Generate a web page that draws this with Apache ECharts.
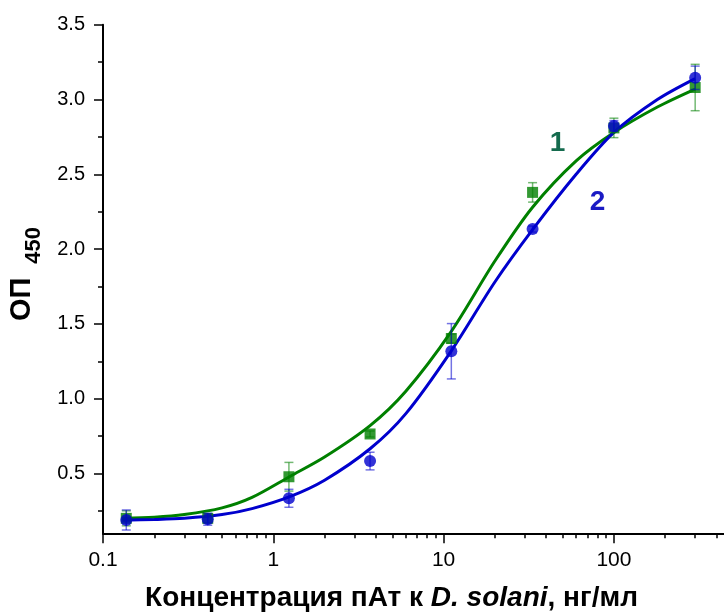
<!DOCTYPE html>
<html>
<head>
<meta charset="utf-8">
<script src="https://cdn.jsdelivr.net/npm/echarts@6/dist/echarts.min.js"></script>
<style>
  html, body { margin: 0; padding: 0; background: #ffffff; }
  #chart { width: 724px; height: 613px; }
</style>
</head>
<body>
<div id="chart"></div>
<script>
// Antibody concentration (ng/ml), three-fold dilution series
const conc = [0.137, 0.412, 1.235, 3.7, 11.1, 33.3, 100, 300];

// Series 1 (green squares): mean OD450 and standard deviation
const od1 = [0.200, 0.200, 0.478, 0.764, 1.402, 2.379, 2.810, 3.080];
const sd1 = [0.050, 0.030, 0.096, 0.020, 0.030, 0.065, 0.065, 0.155];

// Series 2 (blue circles): mean OD450 and standard deviation
const od2 = [0.189, 0.194, 0.334, 0.583, 1.317, 2.134, 2.823, 3.145];
const sd2 = [0.067, 0.040, 0.060, 0.059, 0.185, 0.020, 0.036, 0.078];

// Fitted calibration curves, sampled along the concentration range
const curveX = [0.13, 0.2, 0.3, 0.5, 0.75, 1.25, 2, 3.7, 6, 11.1, 20, 33.3, 60, 100, 180, 300];
const fit1 = [0.200, 0.207, 0.225, 0.270, 0.340, 0.480, 0.610, 0.820, 1.050, 1.450, 1.920, 2.280, 2.590, 2.780, 2.950, 3.070];
const fit2 = [0.188, 0.192, 0.200, 0.225, 0.265, 0.345, 0.455, 0.665, 0.900, 1.320, 1.780, 2.130, 2.500, 2.780, 3.000, 3.140];

// Axis ticks
const xMajor = [0.1, 1, 10, 100];
const yMajor = [0.5, 1.0, 1.5, 2.0, 2.5, 3.0, 3.5];
const yMinor = [0.25, 0.75, 1.25, 1.75, 2.25, 2.75, 3.25];
const xMinor = [];
for (const decade of [0.1, 1, 10, 100]) {
  for (let k = 2; k <= 9; k++) xMinor.push(+(k * decade).toPrecision(3));
}

const green = '#008000';
const blue = '#0000cd';
const font = "'Liberation Sans', Arial, sans-serif";

function pairs(xs, ys) { return xs.map((x, i) => [x, ys[i]]); }
function errData(xs, ys, sds) { return xs.map((x, i) => [x, ys[i] - sds[i], ys[i] + sds[i]]); }

function errorBars(color) {
  return function (params, api) {
    const top = api.coord([api.value(0), api.value(2)]);
    const bot = api.coord([api.value(0), api.value(1)]);
    const half = 4.5;
    const style = { stroke: color, lineWidth: 1.5 };
    return {
      type: 'group',
      children: [
        { type: 'line', shape: { x1: top[0], y1: top[1], x2: bot[0], y2: bot[1] }, style },
        { type: 'line', shape: { x1: top[0] - half, y1: top[1], x2: top[0] + half, y2: top[1] }, style },
        { type: 'line', shape: { x1: bot[0] - half, y1: bot[1], x2: bot[0] + half, y2: bot[1] }, style }
      ]
    };
  };
}

const chart = echarts.init(document.getElementById('chart'), null, { renderer: 'canvas' });

const xCommon = { type: 'log', logBase: 10, min: 0.1, max: 443, position: 'bottom', splitLine: { show: false } };
const yCommon = { type: 'value', min: 0.1, max: 3.5, position: 'left', splitLine: { show: false } };

chart.setOption({
  animation: false,
  backgroundColor: '#ffffff',
  grid: { left: 103, right: 0, top: 24.7, bottom: 79.7, containLabel: false, outerBoundsMode: 'none' },
  xAxis: [
    Object.assign({}, xCommon, {
      axisLine: { show: true, lineStyle: { color: '#000', width: 2 } },
      axisTick: { show: true, inside: false, length: 10, lineStyle: { color: '#000', width: 1.5 }, customValues: xMajor },
      axisLabel: {
        show: true, margin: 16, color: '#000', fontSize: 21, fontFamily: font,
        customValues: xMajor,
        formatter: v => String(+(+v).toPrecision(3))
      },
      name: '{b|Концентрация пАт к }{bi|D. solani}{b|, нг/мл}',
      nameLocation: 'middle',
      nameGap: 51,
      nameTextStyle: {
        padding: [0, 44, 0, 0],
        rich: {
          b: { fontSize: 28, fontWeight: 'bold', color: '#000', fontFamily: font },
          bi: { fontSize: 28, fontWeight: 'bold', fontStyle: 'italic', color: '#000', fontFamily: font }
        }
      }
    }),
    Object.assign({}, xCommon, {
      axisLine: { show: false },
      axisTick: { show: true, inside: false, length: 5, lineStyle: { color: '#000', width: 1.5 }, customValues: xMinor },
      axisLabel: { show: false }
    })
  ],
  yAxis: [
    Object.assign({}, yCommon, {
      axisLine: { show: true, lineStyle: { color: '#000', width: 2 } },
      axisTick: { show: true, inside: false, length: 9, lineStyle: { color: '#000', width: 1.5 }, customValues: yMajor },
      axisLabel: {
        show: true, margin: 18, color: '#000', fontSize: 20, fontFamily: font,
        customValues: yMajor,
        formatter: v => (+v).toFixed(1)
      },
      name: '{b|ОП}{s|450}',
      nameLocation: 'middle',
      nameRotate: 90,
      nameGap: 58,
      nameTextStyle: {
        padding: [0, 0, 0, 10],
        rich: {
          b: { fontSize: 29, fontWeight: 'bold', color: '#000', fontFamily: font, lineHeight: 46 },
          s: { fontSize: 22, fontWeight: 'bold', color: '#000', fontFamily: font, lineHeight: 22, padding: [24, 0, 0, 14] }
        }
      }
    }),
    Object.assign({}, yCommon, {
      axisLine: { show: false },
      axisTick: { show: true, inside: false, length: 5, lineStyle: { color: '#000', width: 1.5 }, customValues: yMinor },
      axisLabel: { show: false }
    })
  ],
  series: [
    {
      name: 'fit1', type: 'line', data: pairs(curveX, fit1),
      smooth: 0.3, showSymbol: false, symbol: 'none',
      lineStyle: { color: green, width: 3 }, z: 2,
      markPoint: {
        symbol: 'circle', symbolSize: 0, silent: true,
        label: { show: true, formatter: '1', fontSize: 28, fontWeight: 'bold', color: '#156b4e', fontFamily: font },
        data: [{ coord: [46.7, 2.71] }]
      }
    },
    {
      name: 'fit2', type: 'line', data: pairs(curveX, fit2),
      smooth: 0.3, showSymbol: false, symbol: 'none',
      lineStyle: { color: blue, width: 3 }, z: 3,
      markPoint: {
        symbol: 'circle', symbolSize: 0, silent: true,
        label: { show: true, formatter: '2', fontSize: 28, fontWeight: 'bold', color: '#1a1ac4', fontFamily: font },
        data: [{ coord: [80.2, 2.31] }]
      }
    },
    {
      name: 'err1', type: 'custom', data: errData(conc, od1, sd1),
      renderItem: errorBars('rgba(0,128,0,0.55)'), z: 4, silent: true
    },
    {
      name: 'od1', type: 'scatter', data: pairs(conc, od1),
      symbol: 'rect', symbolSize: 11, itemStyle: { color: green }, z: 5
    },
    {
      name: 'err2', type: 'custom', data: errData(conc, od2, sd2),
      renderItem: errorBars('rgba(0,0,205,0.55)'), z: 6, silent: true
    },
    {
      name: 'od2', type: 'scatter', data: pairs(conc, od2),
      symbol: 'circle', symbolSize: 12, itemStyle: { color: blue }, z: 7
    }
  ]
});
</script>
</body>
</html>
